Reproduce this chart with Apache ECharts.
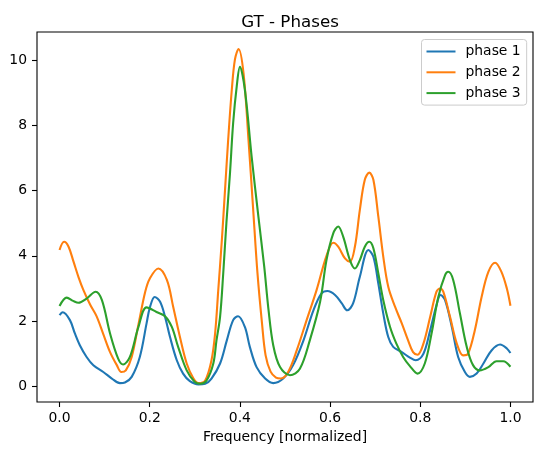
<!DOCTYPE html>
<html>
<head>
<meta charset="utf-8">
<script src="https://cdn.jsdelivr.net/npm/echarts@6/dist/echarts.min.js"></script>
<style>html,body{margin:0;padding:0;background:#fff}#c{width:543px;height:455px}</style>
</head>
<body>
<div id="c"></div>
<script>
const seriesNames = ['phase 1', 'phase 2', 'phase 3'];
const xTicks = [0, 0.2, 0.4, 0.6, 0.8, 1.0];
const yTicks = [0, 2, 4, 6, 8, 10];

const phase1 = [
[0,2.18],[0.007,2.27],[0.023,2.03],[0.034,1.62],[0.045,1.26],[0.06,0.90],[0.075,0.645],[0.097,0.44],
[0.116,0.24],[0.134,0.10],[0.145,0.12],[0.16,0.29],[0.178,0.9],[0.193,1.93],[0.2,2.40],[0.211,2.74],
[0.223,2.59],[0.234,2.13],[0.245,1.51],[0.26,0.8],[0.274,0.39],[0.289,0.16],[0.308,0.06],[0.323,0.08],
[0.337,0.24],[0.356,0.7],[0.371,1.41],[0.385,2.03],[0.396,2.15],[0.411,1.82],[0.422,1.21],[0.437,0.59],
[0.456,0.24],[0.474,0.10],[0.496,0.24],[0.518,0.65],[0.541,1.41],[0.563,2.33],[0.581,2.85],[0.594,2.92],
[0.611,2.8],[0.626,2.54],[0.638,2.33],[0.651,2.54],[0.666,3.36],[0.685,4.18],[0.696,3.97],[0.707,3.15],
[0.718,2.23],[0.729,1.51],[0.74,1.21],[0.759,1.05],[0.777,0.88],[0.790,0.8],[0.807,1.0],[0.822,1.72],
[0.836,2.49],[0.845,2.8],[0.855,2.64],[0.87,1.82],[0.884,0.9],[0.899,0.44],[0.91,0.29],[0.925,0.39],
[0.94,0.7],[0.958,1.1],[0.977,1.28],[0.992,1.16],[1.0,1.02]
];
const phase2 = [
[0,4.18],[0.01,4.43],[0.02,4.28],[0.031,3.82],[0.042,3.35],[0.053,2.95],[0.068,2.5],[0.082,2.15],
[0.097,1.6],[0.112,1.05],[0.127,0.65],[0.137,0.44],[0.147,0.49],[0.16,0.9],[0.175,1.9],[0.19,2.9],
[0.2,3.3],[0.219,3.61],[0.238,3.26],[0.252,2.44],[0.267,1.51],[0.282,0.7],[0.297,0.24],[0.308,0.1],
[0.323,0.18],[0.337,0.8],[0.345,1.62],[0.352,2.95],[0.36,4.49],[0.367,6.02],[0.374,7.56],[0.382,9.09],
[0.389,10.02],[0.397,10.34],[0.408,9.6],[0.419,7.56],[0.429,5.51],[0.439,3.46],[0.449,1.93],[0.457,0.95],
[0.468,0.45],[0.48,0.27],[0.491,0.24],[0.507,0.44],[0.526,1.1],[0.548,2.03],[0.57,2.95],[0.592,4.0],[0.607,4.4],
[0.618,4.28],[0.633,3.92],[0.644,3.82],[0.655,4.28],[0.666,5.41],[0.677,6.33],[0.687,6.55],[0.696,6.33],
[0.707,5.2],[0.718,3.97],[0.729,3.05],[0.744,2.44],[0.759,1.93],[0.773,1.41],[0.784,1.05],[0.794,0.97],
[0.807,1.31],[0.822,2.13],[0.836,2.9],[0.844,3.0],[0.851,2.9],[0.866,2.13],[0.881,1.31],[0.895,0.95],
[0.906,1.0],[0.921,1.72],[0.936,2.74],[0.951,3.51],[0.966,3.79],[0.98,3.51],[0.992,3.0],[1.0,2.47]
];
const phase3 = [
[0,2.46],[0.016,2.72],[0.03,2.62],[0.042,2.56],[0.06,2.69],[0.08,2.9],[0.094,2.64],[0.112,1.62],
[0.13,0.85],[0.141,0.67],[0.156,0.9],[0.175,1.82],[0.193,2.42],[0.215,2.28],[0.234,2.15],[0.249,1.82],
[0.263,1.21],[0.282,0.49],[0.3,0.13],[0.312,0.08],[0.326,0.18],[0.341,0.7],[0.348,1.4],[0.356,2.13],
[0.363,3.46],[0.37,5.0],[0.378,6.53],[0.385,8.07],[0.393,9.2],[0.4,9.79],[0.411,9.09],[0.426,7.04],
[0.441,5.2],[0.454,3.66],[0.463,2.4],[0.474,1.25],[0.489,0.59],[0.511,0.34],[0.533,0.54],[0.555,1.41],
[0.578,2.6],[0.592,3.87],[0.607,4.69],[0.618,4.9],[0.629,4.59],[0.644,3.87],[0.655,3.61],[0.666,3.87],
[0.677,4.28],[0.687,4.43],[0.696,4.23],[0.707,3.46],[0.718,2.64],[0.733,1.82],[0.747,1.31],[0.762,0.9],
[0.777,0.62],[0.794,0.39],[0.81,0.7],[0.825,1.62],[0.84,2.74],[0.855,3.41],[0.862,3.51],[0.873,3.26],
[0.888,2.23],[0.903,1.21],[0.917,0.65],[0.932,0.49],[0.951,0.59],[0.969,0.77],[0.984,0.77],[1.0,0.6]
];

const colors = ['#1f77b4', '#ff7f0e', '#2ca02c'];
const font = 'DejaVu Sans';
const chart = echarts.init(document.getElementById('c'), null, {renderer: 'canvas'});
const allData = [phase1, phase2, phase3];

chart.setOption({
  animation: false,
  backgroundColor: '#fff',
  title: {
    text: 'GT - Phases', left: 285, top: 9, textAlign: 'center',
    textStyle: {fontFamily: font, fontSize: 16.7, fontWeight: 'normal', color: '#000'}
  },
  legend: {
    orient: 'vertical', left: 421.5, top: 39.5,
    data: seriesNames,
    icon: 'rect', itemWidth: 29, itemHeight: 2, itemGap: 6.8,
    padding: [5, 6, 5, 5],
    backgroundColor: 'rgba(255,255,255,0.8)',
    borderColor: '#cccccc', borderWidth: 1, borderRadius: 3,
    textStyle: {fontFamily: font, fontSize: 13.9, color: '#000', padding: [0, 0, 0, 5]}
  },
  grid: {left: 37, right: 10, top: 32, bottom: 53, show: true, borderColor: '#000', borderWidth: 1.1, backgroundColor: 'transparent'},
  xAxis: {
    type: 'value', min: -0.05, max: 1.05,
    name: 'Frequency [normalized]', nameLocation: 'middle', nameGap: 28,
    nameTextStyle: {fontFamily: font, fontSize: 13.9, color: '#000'},
    axisLine: {show: false, onZero: false},
    splitLine: {show: false},
    axisTick: {show: true, inside: false, length: 5, lineStyle: {color: '#000', width: 1.1}, customValues: xTicks},
    axisLabel: {customValues: xTicks, margin: 9, fontFamily: font, fontSize: 13.9, color: '#000', formatter: v => v.toFixed(1)}
  },
  yAxis: {
    type: 'value', min: -0.48, max: 10.86,
    axisLine: {show: false, onZero: false},
    splitLine: {show: false},
    axisTick: {show: true, inside: false, length: 5, lineStyle: {color: '#000', width: 1.1}, customValues: yTicks},
    axisLabel: {customValues: yTicks, margin: 10, fontFamily: font, fontSize: 13.9, color: '#000', formatter: v => String(Math.round(v))}
  },
  series: seriesNames.map((n, i) => ({
    name: n, type: 'line', data: allData[i], showSymbol: false, symbol: 'none',
    smooth: 0.35, clip: true,
    lineStyle: {color: colors[i], width: 2.1},
    itemStyle: {color: colors[i]}
  }))
});
</script>
</body>
</html>
